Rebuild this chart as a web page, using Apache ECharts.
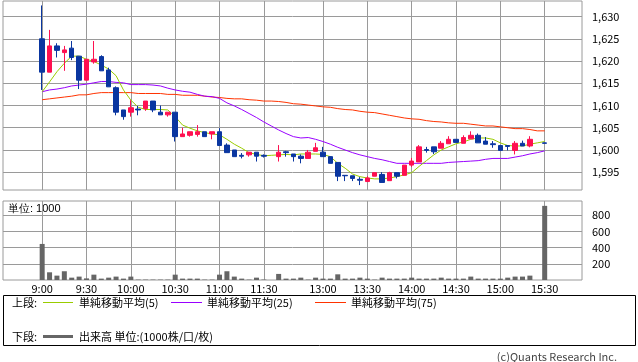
<!DOCTYPE html>
<html><head><meta charset="utf-8">
<script src="https://cdn.jsdelivr.net/npm/echarts@6/dist/echarts.min.js"></script>
<style>html,body{margin:0;padding:0;background:#fff}#c{width:638px;height:362px}</style>
</head><body><div id="c"></div>
<script>
// ---- data ----
const times = ['9:00','9:05','9:10','9:15','9:20','9:25','9:30','9:35','9:40','9:45','9:50','9:55',
 '10:00','10:05','10:10','10:15','10:20','10:25','10:30','10:35','10:40','10:45','10:50','10:55',
 '11:00','11:05','11:10','11:15','11:20','11:25','11:30','',
 '12:30','12:35','12:40','12:45','12:50','12:55',
 '13:00','13:05','13:10','13:15','13:20','13:25','13:30','13:35','13:40','13:45','13:50','13:55',
 '14:00','14:05','14:10','14:15','14:20','14:25','14:30','14:35','14:40','14:45','14:50','14:55',
 '15:00','15:05','15:10','15:15','15:20','15:25','15:30'];
const timeTickLabels = ['9:00','9:30','10:00','10:30','11:00','11:30','13:00','13:30','14:00','14:30','15:00','15:30'];
const priceTicks = [1595,1600,1605,1610,1615,1620,1625,1630];
const volumeTicks = [200,400,600,800];

const openP  = [1625.0,1617.5,1623.4,1621.9,1622.9,1621.1,1615.7,1619.8,1621.0,1618.0,1614.0,1609.0,
 1608.5,1609.2,1609.3,1611.0,1608.5,1607.9,1608.5,1603.0,1603.3,1603.5,1604.1,1603.6,
 1604.1,1601.1,1600.0,1598.8,1598.9,1599.5,1598.8,null,
 1598.5,1599.6,1599.1,1598.6,1598.1,1599.7,
 1599.5,1598.5,1597.2,1594.3,1594.2,1593.4,1592.9,1594.1,1594.5,1593.1,1594.9,1594.3,
 1596.6,1597.3,1600.1,1600.7,1600.4,1601.4,1602.4,1601.5,1602.5,1603.3,1602.0,1601.4,
 1601.0,1601.0,1599.9,1601.5,1600.9,null,1601.6];
const closeP = [1617.5,1623.4,1622.4,1622.5,1620.8,1615.7,1620.4,1620.4,1617.8,1614.2,1608.5,1607.5,
 1609.5,1609.0,1611.0,1609.0,1607.9,1608.5,1603.0,1603.6,1604.1,1604.1,1603.0,1604.1,
 1601.0,1599.4,1598.5,1598.6,1599.5,1598.6,1598.6,null,
 1599.5,1599.4,1598.5,1598.1,1599.5,1600.5,
 1598.5,1597.0,1594.1,1594.2,1593.6,1593.2,1593.7,1594.9,1592.7,1594.9,1594.1,1596.6,
 1597.5,1600.7,1599.9,1599.6,1601.5,1602.4,1601.7,1602.8,1603.3,1601.6,1601.3,1601.2,
 1599.9,1600.8,1601.5,1600.9,1602.4,null,1601.5];
const lowP   = [1613.5,1617.5,1620.8,1617.8,1620.2,1613.7,1615.7,1619.4,1617.8,1614.2,1607.8,1606.8,
 1607.5,1607.8,1608.8,1608.5,1607.9,1607.5,1601.9,1603.0,1603.0,1603.0,1603.0,1602.4,
 1601.0,1599.4,1598.5,1598.1,1598.5,1597.4,1598.3,null,
 1597.4,1598.5,1597.4,1597.0,1598.1,1599.7,
 1598.5,1597.0,1593.0,1593.0,1593.0,1592.1,1592.9,1594.1,1592.7,1593.1,1593.6,1594.3,
 1596.2,1597.3,1599.4,1599.1,1600.4,1601.4,1601.7,1601.5,1602.5,1601.6,1601.3,1600.5,
 1599.9,1599.9,1599.0,1600.9,1600.6,null,1601.5];
const highP  = [1632.5,1627.0,1624.0,1623.4,1624.5,1621.1,1620.4,1624.5,1621.3,1618.5,1614.3,1609.0,
 1611.2,1609.9,1611.0,1611.0,1610.0,1608.5,1608.5,1605.0,1604.1,1605.6,1604.1,1604.1,
 1604.9,1601.5,1600.0,1599.3,1599.5,1599.5,1599.0,null,
 1601.1,1599.8,1599.1,1599.0,1600.0,1601.6,
 1600.7,1598.5,1597.2,1594.3,1594.2,1593.9,1594.1,1594.9,1595.0,1595.1,1594.9,1596.6,
 1598.2,1601.1,1600.7,1600.7,1602.0,1603.1,1602.4,1603.3,1604.2,1603.7,1602.9,1602.0,
 1601.0,1601.0,1602.0,1602.1,1603.1,null,1601.6];

const ma5  = [1613.1,1615.3,1617.6,1619.5,1621.1,1621.1,1620.4,1619.9,1619.1,1618.2,1616.7,1613.5,
 1611.2,1609.6,1609.1,1609.1,1609.1,1609.0,1607.5,1605.6,1604.9,1604.3,1603.9,1603.6,
 1603.4,1602.4,1601.3,1600.4,1599.4,1599.0,1598.7,1598.8,
 1598.9,1599.0,1598.9,1599.1,1599.1,1599.1,
 1599.0,1598.5,1597.0,1595.9,1594.6,1594.0,1593.7,1593.5,1593.5,1593.7,1594.0,1594.4,
 1594.9,1596.3,1597.6,1598.9,1600.0,1600.7,1601.4,1601.8,1602.4,1602.7,1602.7,1602.4,
 1601.6,1601.0,1600.9,1600.9,1601.3,1601.6,1601.9];
const ma25 = [1613.1,1613.5,1613.7,1614.0,1614.4,1614.6,1614.8,1615.1,1615.4,1615.4,1615.2,1615.1,
 1614.7,1614.7,1614.7,1614.6,1614.4,1613.9,1613.5,1613.2,1613.0,1612.5,1612.1,1612.0,
 1611.6,1610.6,1609.9,1609.1,1608.2,1607.3,1606.3,1605.4,
 1604.5,1603.7,1603.0,1602.7,1602.8,1602.4,
 1601.9,1601.3,1600.6,1600.0,1599.4,1598.9,1598.5,1598.1,1597.8,1597.4,1597.0,1597.0,
 1597.0,1597.0,1597.0,1597.0,1597.0,1597.2,1597.3,1597.4,1597.5,1597.6,1597.9,1598.1,
 1598.1,1598.1,1598.4,1598.7,1599.1,1599.4,1599.8];
const ma75 = [1611.3,1611.5,1611.7,1611.9,1612.1,1612.4,1612.4,1612.7,1612.9,1612.9,1612.9,1612.9,
 1612.9,1612.7,1612.7,1612.7,1612.7,1612.5,1612.5,1612.3,1612.3,1612.3,1612.1,1611.9,
 1611.8,1611.6,1611.5,1611.5,1611.3,1611.2,1611.0,1611.0,
 1610.9,1610.7,1610.4,1610.3,1610.1,1609.9,
 1609.7,1609.6,1609.3,1609.1,1609.0,1608.7,1608.5,1608.4,1608.1,1607.8,1607.5,1607.2,
 1607.0,1606.9,1606.6,1606.4,1606.3,1606.1,1606.0,1606.0,1605.8,1605.6,1605.4,1605.4,
 1605.2,1605.0,1604.8,1604.8,1604.6,1604.3,1604.3];

const volume = [445,95,54,108,29,42,20,66,17,29,42,17,
 42,5,5,5,5,5,66,17,17,17,5,5,
 66,108,42,17,5,29,5,null,
 75,17,17,29,5,29,
 17,17,70,17,17,29,17,5,29,17,17,17,
 29,17,17,17,29,17,17,17,42,17,17,17,
 17,29,42,42,54,null,915];

// ---- build ----
const FONT = '"Noto Sans CJK JP","Noto Sans",sans-serif';
const UP = '#ff1050', DOWN = '#0a36a0';
const tickIdx = timeTickLabels.map(t => times.indexOf(t));
const candles = [];
times.forEach((t, i) => { if (openP[i] != null) candles.push([i, openP[i], closeP[i], lowP[i], highP[i]]); });
const vols = [];
times.forEach((t, i) => { if (volume[i] != null) vols.push([i, volume[i]]); });
const line = arr => arr.map((v, i) => [i, v]);
const X_MIN = -5.3, X_MAX = 73.05;
const gridLine = { lineStyle: { color: '#9a9a9a', width: 1 } };

const chart = echarts.init(document.getElementById('c'), null, { renderer: 'canvas' });
chart.setOption({
  animation: false,
  textStyle: { fontFamily: FONT },
  grid: [
    { left: 3, top: 1, width: 579, height: 189, show: true, borderColor: '#9a9a9a', borderWidth: 1 },
    { left: 3, top: 201, width: 579, height: 79, show: true, borderColor: '#9a9a9a', borderWidth: 1 }
  ],
  xAxis: [
    { type: 'value', gridIndex: 0, min: X_MIN, max: X_MAX,
      axisLine: { show: false }, axisTick: { show: false, customValues: tickIdx },
      axisLabel: { show: false, customValues: tickIdx }, splitLine: Object.assign({ show: true }, gridLine) },
    { type: 'value', gridIndex: 1, min: X_MIN, max: X_MAX,
      axisLine: { show: false }, axisTick: { show: false, customValues: tickIdx },
      axisLabel: { show: true, customValues: tickIdx, margin: 3, fontSize: 11, color: '#000', fontFamily: FONT,
        formatter: v => times[Math.round(v)] },
      splitLine: Object.assign({ show: true }, gridLine) }
  ],
  yAxis: [
    { type: 'value', gridIndex: 0, position: 'right', min: 1591, max: 1633.5,
      axisLine: { show: false },
      axisTick: { show: true, length: 5, customValues: priceTicks, lineStyle: { color: '#9a9a9a' } },
      axisLabel: { customValues: priceTicks, margin: 10, fontSize: 11, color: '#000', fontFamily: FONT,
        formatter: v => v.toLocaleString('en-US') },
      splitLine: Object.assign({ show: true }, gridLine) },
    { type: 'value', gridIndex: 1, position: 'right', min: 0, max: 975,
      axisLine: { show: false },
      axisTick: { show: true, length: 5, customValues: volumeTicks, lineStyle: { color: '#9a9a9a' } },
      axisLabel: { customValues: volumeTicks, margin: 10, fontSize: 11, color: '#000', fontFamily: FONT },
      splitLine: Object.assign({ show: true }, gridLine) }
  ],
  series: [
    { name: '単純移動平均(75)', type: 'line', xAxisIndex: 0, yAxisIndex: 0, data: line(ma75),
      showSymbol: false, lineStyle: { color: '#ff3300', width: 1 }, z: 2 },
    { name: '単純移動平均(25)', type: 'line', xAxisIndex: 0, yAxisIndex: 0, data: line(ma25),
      showSymbol: false, lineStyle: { color: '#9900ff', width: 1 }, z: 2 },
    { name: '単純移動平均(5)', type: 'line', xAxisIndex: 0, yAxisIndex: 0, data: line(ma5),
      showSymbol: false, lineStyle: { color: '#99cc00', width: 1 }, z: 2 },
    { name: '株価', type: 'candlestick', xAxisIndex: 0, yAxisIndex: 0, data: candles, barWidth: 5, z: 3,
      itemStyle: { color: UP, color0: DOWN, borderColor: UP, borderColor0: DOWN, borderWidth: 1 } },
    { name: '出来高', type: 'bar', xAxisIndex: 1, yAxisIndex: 1, data: vols, barWidth: 5,
      itemStyle: { color: '#666666' } }
  ],
  graphic: [
    { type: 'text', left: 8, top: 203, style: { text: '単位: 1000', fontSize: 11, fill: '#000', font: '11px ' + FONT } },
    { type: 'rect', shape: { x: 3.5, y: 295.5, width: 632, height: 50 }, style: { fill: 'none', stroke: '#000', lineWidth: 1 } },
    { type: 'text', x: 12, y: 302.5, style: { text: '上段:', font: '11px ' + FONT, fill: '#000', verticalAlign: 'middle' } },
    { type: 'line', shape: { x1: 43, y1: 302.5, x2: 73, y2: 302.5 }, style: { stroke: '#99cc00', lineWidth: 1 } },
    { type: 'text', x: 79, y: 302.5, style: { text: '単純移動平均(5)', font: '11px ' + FONT, fill: '#000', verticalAlign: 'middle' } },
    { type: 'line', shape: { x1: 171, y1: 302.5, x2: 202, y2: 302.5 }, style: { stroke: '#9900ff', lineWidth: 1 } },
    { type: 'text', x: 207, y: 302.5, style: { text: '単純移動平均(25)', font: '11px ' + FONT, fill: '#000', verticalAlign: 'middle' } },
    { type: 'line', shape: { x1: 315, y1: 302.5, x2: 346, y2: 302.5 }, style: { stroke: '#ff3300', lineWidth: 1 } },
    { type: 'text', x: 351, y: 302.5, style: { text: '単純移動平均(75)', font: '11px ' + FONT, fill: '#000', verticalAlign: 'middle' } },
    { type: 'text', x: 12, y: 336.5, style: { text: '下段:', font: '11px ' + FONT, fill: '#000', verticalAlign: 'middle' } },
    { type: 'line', shape: { x1: 43, y1: 336.5, x2: 73, y2: 336.5 }, style: { stroke: '#666666', lineWidth: 3 } },
    { type: 'text', x: 79, y: 336.5, style: { text: '出来高 単位:(1000株/口/枚)', font: '11px ' + FONT, fill: '#000', verticalAlign: 'middle' } },
    { type: 'text', x: 617, y: 357, style: { text: '(c)Quants Research Inc.', font: '11px ' + FONT, fill: '#444', align: 'right', verticalAlign: 'middle' } }
  ]
});
</script></body></html>
